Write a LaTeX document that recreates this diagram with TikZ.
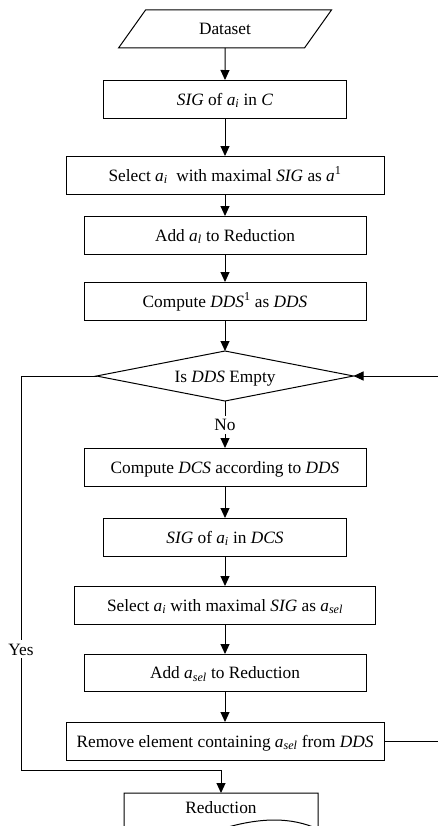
\documentclass[tikz,border=0pt]{standalone}
\usepackage{fontspec}
\setmainfont{Liberation Serif}
\usepackage{tikz}
\usetikzlibrary{shapes.geometric,arrows.meta,positioning,calc}
\usepackage{xcolor}

\newcommand\att[1]{\textit{a}\textsubscript{\textit{#1}}}

\begin{document}
\begin{tikzpicture}[x=1pt,y=1pt,line width=1pt,
  every node/.style={font=\fontsize{17.3}{20}\selectfont,align=center,%
    text height=14pt,text depth=2pt,outer sep=0pt,},%
  e/.style={-{Triangle[length=10pt,width=9pt]},draw=black},%
  bx/.style={rectangle,draw,minimum height=38pt,inner sep=2pt,},%
  io/.style={trapezium,draw,trapezium left angle=64.6,trapezium right angle=115.4,%
    trapezium stretches=true,minimum width=214pt,minimum height=38pt,inner sep=2pt,},%
  dc/.style={diamond,draw,aspect=5.14,inner sep=0pt,minimum width=257pt,%
    minimum height=50pt,},%
  lb/.style={fill=white,inner sep=1pt,},%
  ]
  \useasboundingbox (0,0) rectangle (438,-826);

  \node (data) [io] at (225,-29) {Dataset};

  \node (sig) [bx,below=32pt of data,minimum width=243pt%
  ] {\textit{SIG} of \att{i} in \textit{C}};
  \node (sel) [bx,below=38pt of sig,minimum width=318pt%
  ] {Select \att{i}\ \ with maximal \textit{SIG} as \textit{a}\textsuperscript{1}};
  \node (add) [bx,below=22pt of sel,minimum width=282pt%
  ] {Add \att{l} to Reduction};
  \node (dds) [bx,below=28pt of add,minimum width=282pt%
  ] {Compute \textit{DDS}\textsuperscript{1} as \textit{DDS}};

  \node (empty) [dc,below=31pt of dds%
  ] {Is \textit{DDS} Empty};

  \node (dcs) [bx,below=47pt of empty,minimum width=282pt%
  ] {Compute \textit{DCS} according to \textit{DDS}};
  \node (sigd) [bx,below=32pt of dcs,minimum width=243pt%
  ] {\textit{SIG} of \att{i} in \textit{DCS}};
  \node (asel) [bx,below=30pt of sigd,minimum width=301pt%
  ] {Select \att{i} with maximal \textit{SIG} as \att{sel}};
  \node (addsel) [bx,below=30pt of asel,minimum width=282pt,minimum height=37pt%
  ] {Add \att{sel} to Reduction};
  \node (rem) [bx,below=31pt of addsel,minimum width=318pt%
  ] {Remove element containing \att{sel} from \textit{DDS}};

  \node (red) [below=33pt of rem,xshift=-4pt,minimum width=194pt,minimum height=28pt,%
    inner sep=0pt] {Reduction};
  % document shape, its wavy bottom runs off the page
  \draw (red.north west) -- (red.north east) -- ++(0,-36)
    .. controls ++(-27,12) and ++(40,12) .. ($(red.north)+(0,-36)$)
    .. controls ++(-40,-12) and ++(27,-12) .. ($(red.north west)+(0,-36)$) -- cycle;

  \coordinate (yb) at (21,-770);
  \coordinate (rt) at (446,0);

  \draw [e] (data) -- (sig);
  \draw [e] (sig) -- (sel);
  \draw [e] (sel) -- (add);
  \draw [e] (add) -- (dds);
  \draw [e] (dds) -- (empty);
  \draw [e] (empty) -- (dcs) node [midway,lb] {No};
  \draw [e] (dcs) -- (sigd);
  \draw [e] (sigd) -- (asel);
  \draw [e] (asel) -- (addsel);
  \draw [e] (addsel) -- (rem);
  \draw [e] (rem.east) -- (rem.east -| rt) -- (empty.east -| rt) -- (empty.east);
  \draw [e] (empty.west) -| (yb) -| (red.north);

  \node (yes) [lb] at (21,-649) {Yes};
\end{tikzpicture}
\end{document}
